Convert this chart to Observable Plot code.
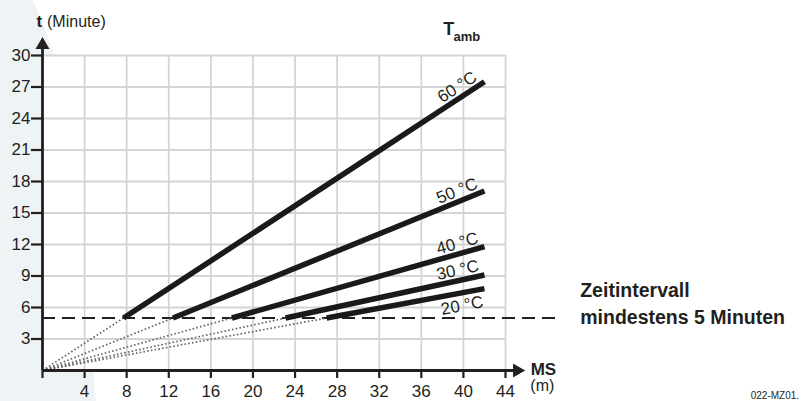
<!DOCTYPE html>
<html>
<head>
<meta charset="utf-8">
<script src="https://cdn.jsdelivr.net/npm/d3@7"></script>
<script src="https://cdn.jsdelivr.net/npm/@observablehq/plot@0.6"></script>
<style>
  html, body { margin: 0; padding: 0; background: #fff; }
  #wrap { position: relative; width: 802px; height: 401px; overflow: hidden; }
  #bg { position: absolute; left: 0; top: 0; width: 802px; height: 401px; background: #eef3f6;
        clip-path: polygon(0 0, 33px 0, 45px 30px, 56px 60px, 68px 150px, 80px 250px, 90px 340px, 96px 401px, 0 401px); }
  #chart { position: absolute; left: 0; top: 0; }
</style>
</head>
<body>
<div id="wrap"><div id="bg"></div><div id="chart"></div></div>
<script>
// ---- data ----
const temps   = ["20 °C", "30 °C", "40 °C", "50 °C", "60 °C"];
const startMS = [27.0, 23.1, 18.0, 12.4, 7.7];   // MS (m) where t reaches 5 min
const endMS   = [42, 42, 42, 42, 42];
const endT    = [7.8, 9.1, 11.8, 17.1, 27.5];    // t (min) at MS = 42 m
const labelSide = ["below", "above", "above", "above", "above"];
const intervalT = 5;
const msTicks = [0, 4, 8, 12, 16, 20, 24, 28, 32, 36, 40, 44];
const tTicks  = [3, 6, 9, 12, 15, 18, 21, 24, 27, 30];

// ---- layout ----
const W = 802, H = 401;
const mL = 42, mR = 297, mT = 55, mB = 31;
const kx = (W - mL - mR) / 44, ky = (H - mT - mB) / 30;

const series = temps.map((name, i) => {
  const x1 = startMS[i], y1 = intervalT, x2 = endMS[i], y2 = endT[i];
  const slope = (y2 - y1) / (x2 - x1);
  const theta = Math.atan(slope * ky / kx);
  const lx = x2 - 0.35;
  const ly = y1 + (lx - x1) * slope;
  const off = labelSide[i] === "above" ? 5 : -6;
  return {
    name, x1, y1, x2, y2, side: labelSide[i],
    rot: -theta * 180 / Math.PI,
    lx: lx - Math.sin(theta) * off / kx,
    ly: ly + Math.cos(theta) * off / ky
  };
});

const narrow = "'Liberation Sans Narrow', 'Arial Narrow', 'Liberation Sans', Arial, sans-serif";
const sans = "'Liberation Sans', Arial, Helvetica, sans-serif";

const plot = Plot.plot({
  width: W, height: H,
  marginLeft: mL, marginRight: mR, marginTop: mT, marginBottom: mB,
  style: { background: "transparent", fontFamily: sans, color: "#231f20", overflow: "visible" },
  x: { domain: [0, 44], axis: null },
  y: { domain: [0, 30], axis: null },
  marks: [
    Plot.frame({ fill: "white", stroke: "none" }),
    Plot.ruleX(msTicks.filter(d => d > 0), { y1: 0, y2: 30, stroke: "#d4d4d4", strokeWidth: 1.8 }),
    Plot.ruleY(tTicks, { x1: 0, x2: 44, stroke: "#d4d4d4", strokeWidth: 1.8 }),
    // 5 minute interval
    Plot.ruleY([intervalT], { x1: 0, x2: 49.0, stroke: "#231f20", strokeWidth: 2, strokeDasharray: "13,7" }),
    // extrapolated (dotted) part through origin
    Plot.link(series, { x1: () => 0, y1: () => 0, x2: "x1", y2: "y1", stroke: "#666", strokeWidth: 1.7, strokeDasharray: "1.6,2.2" }),
    // valid ranges
    Plot.link(series, { x1: "x1", y1: "y1", x2: "x2", y2: "y2", stroke: "#1a1a1a", strokeWidth: 5.5, strokeLinecap: "butt" }),
    // axes
    Plot.ruleY([0], { x1: 0, x2: 45, stroke: "#231f20", strokeWidth: 2.8 }),
    Plot.ruleX([0], { y1: 0, y2: 31, stroke: "#231f20", strokeWidth: 2.8 }),
    Plot.dot([{ x: 45.1, y: 0, r: 90 }], { x: "x", y: "y", symbol: "triangle", r: 5.2, fill: "#231f20", stroke: "none", rotate: "r" }),
    Plot.dot([{ x: 0, y: 31.0 }], { x: "x", y: "y", symbol: "triangle", r: 5.2, fill: "#231f20", stroke: "none" }),
    Plot.axisX(msTicks, { tickSize: 8, tickPadding: 6, strokeWidth: 2.2, fontSize: 17, fontFamily: narrow, label: null, tickFormat: d => d === 0 ? "" : String(d) }),
    Plot.axisY(tTicks, { tickSize: 11, tickPadding: 1, strokeWidth: 2.2, fontSize: 17, fontFamily: narrow, label: null }),
    // line labels
    Plot.text(series.filter(d => d.side === "above"), { x: "lx", y: "ly", text: "name", rotate: "rot", textAnchor: "end", lineAnchor: "bottom", fontSize: 17, fontFamily: narrow, fill: "#231f20" }),
    Plot.text(series.filter(d => d.side === "below"), { x: "lx", y: "ly", text: "name", rotate: "rot", textAnchor: "end", lineAnchor: "top", fontSize: 17, fontFamily: narrow, fill: "#231f20" }),
    // axis titles & annotations
    Plot.text(["t"], { x: -0.3, y: 33.2, fontWeight: "bold", fontSize: 17, textAnchor: "middle" }),
    Plot.text(["(Minute)"], { x: 0.43, y: 33.2, fontSize: 16, textAnchor: "start" }),
    Plot.text(["T"], { x: 38.6, y: 32.5, fontWeight: "bold", fontSize: 18, textAnchor: "middle" }),
    Plot.text(["amb"], { x: 39.05, y: 31.8, fontWeight: "bold", fontSize: 13, textAnchor: "start" }),
    Plot.text(["MS"], { x: 47.6, y: 0.1, fontWeight: "bold", fontSize: 17, textAnchor: "middle" }),
    Plot.text(["(m)"], { x: 47.5, y: -1.5, fontSize: 16, fontFamily: narrow, textAnchor: "middle" }),
    Plot.text(["Zeitintervall"], { x: 51.1, y: 7.57, fontWeight: "bold", fontSize: 19.5, textAnchor: "start" }),
    Plot.text(["mindestens 5 Minuten"], { x: 51.1, y: 5.05, fontWeight: "bold", fontSize: 19.5, textAnchor: "start" }),
    Plot.text(["022-MZ01."], { x: 71.9, y: -2.4, fontSize: 10, fontFamily: narrow, textAnchor: "end" })
  ]
});
document.getElementById("chart").appendChild(plot);
</script>
</body>
</html>
